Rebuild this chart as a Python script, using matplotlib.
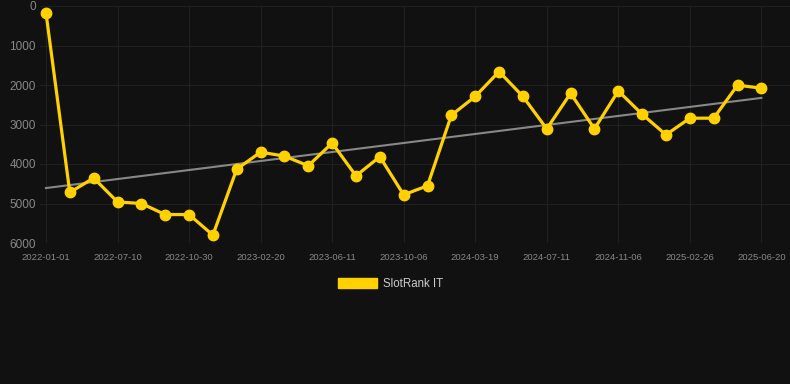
import numpy as np
import matplotlib
matplotlib.use("Agg")
import matplotlib.pyplot as plt
from matplotlib.patches import Patch

plt.rcParams['font.family'] = ['Liberation Sans', 'DejaVu Sans']

# rank per snapshot (31 points, lower is better)
rank = [170, 4720, 4355, 4960, 5000, 5280, 5280, 5800, 4130, 3700,
        3800, 4045, 3470, 4300, 3815, 4780, 4550, 2765, 2290, 1660,
        2290, 3110, 2210, 3110, 2150, 2740, 3260, 2840, 2840, 2005, 2080]
# every third snapshot is labelled
tick_labels = ["2022-01-01", "2022-07-10", "2022-10-30", "2023-02-20",
               "2023-06-11", "2023-10-06", "2024-03-19", "2024-07-11",
               "2024-11-06", "2025-02-26", "2025-06-20"]

x = np.arange(len(rank))
coef = np.polyfit(x, rank, 1)
trend = np.polyval(coef, x)

bg = "#111111"
yellow = "#FFD100"

fig = plt.figure(figsize=(7.9, 3.84), dpi=100, facecolor=bg)
ax = fig.add_axes([40 / 790, 1 - 243 / 384, 750 / 790, 237 / 384])
ax.set_facecolor(bg)

ax.plot(x, trend, color="#888888", linewidth=1.5, zorder=2)
ax.plot(x, rank, color=yellow, linewidth=2.3, marker="o", markersize=7.5, zorder=3)

ax.set_ylim(6000, 0)
ax.set_yticks([0, 1000, 2000, 3000, 4000, 5000, 6000])
ax.set_xlim(-0.25, 31.2)
ax.set_xticks(x[::3])
ax.set_xticklabels(tick_labels)

ax.grid(True, color="#202020", linewidth=0.8)
for s in ax.spines.values():
    s.set_visible(False)
ax.tick_params(axis="y", colors="#888888", labelsize=8.5, length=0, pad=3)
ax.tick_params(axis="x", colors="#888888", labelsize=6.8, length=0, pad=7)

fig.legend(handles=[Patch(facecolor=yellow, edgecolor=yellow, label="SlotRank IT")],
           loc="center", bbox_to_anchor=(0.494, 0.26), frameon=False,
           handlelength=3.4, handleheight=1.0, handletextpad=0.5,
           labelcolor="#cccccc", fontsize=8.3)

fig.savefig("out.png", dpi=100, facecolor=bg)
